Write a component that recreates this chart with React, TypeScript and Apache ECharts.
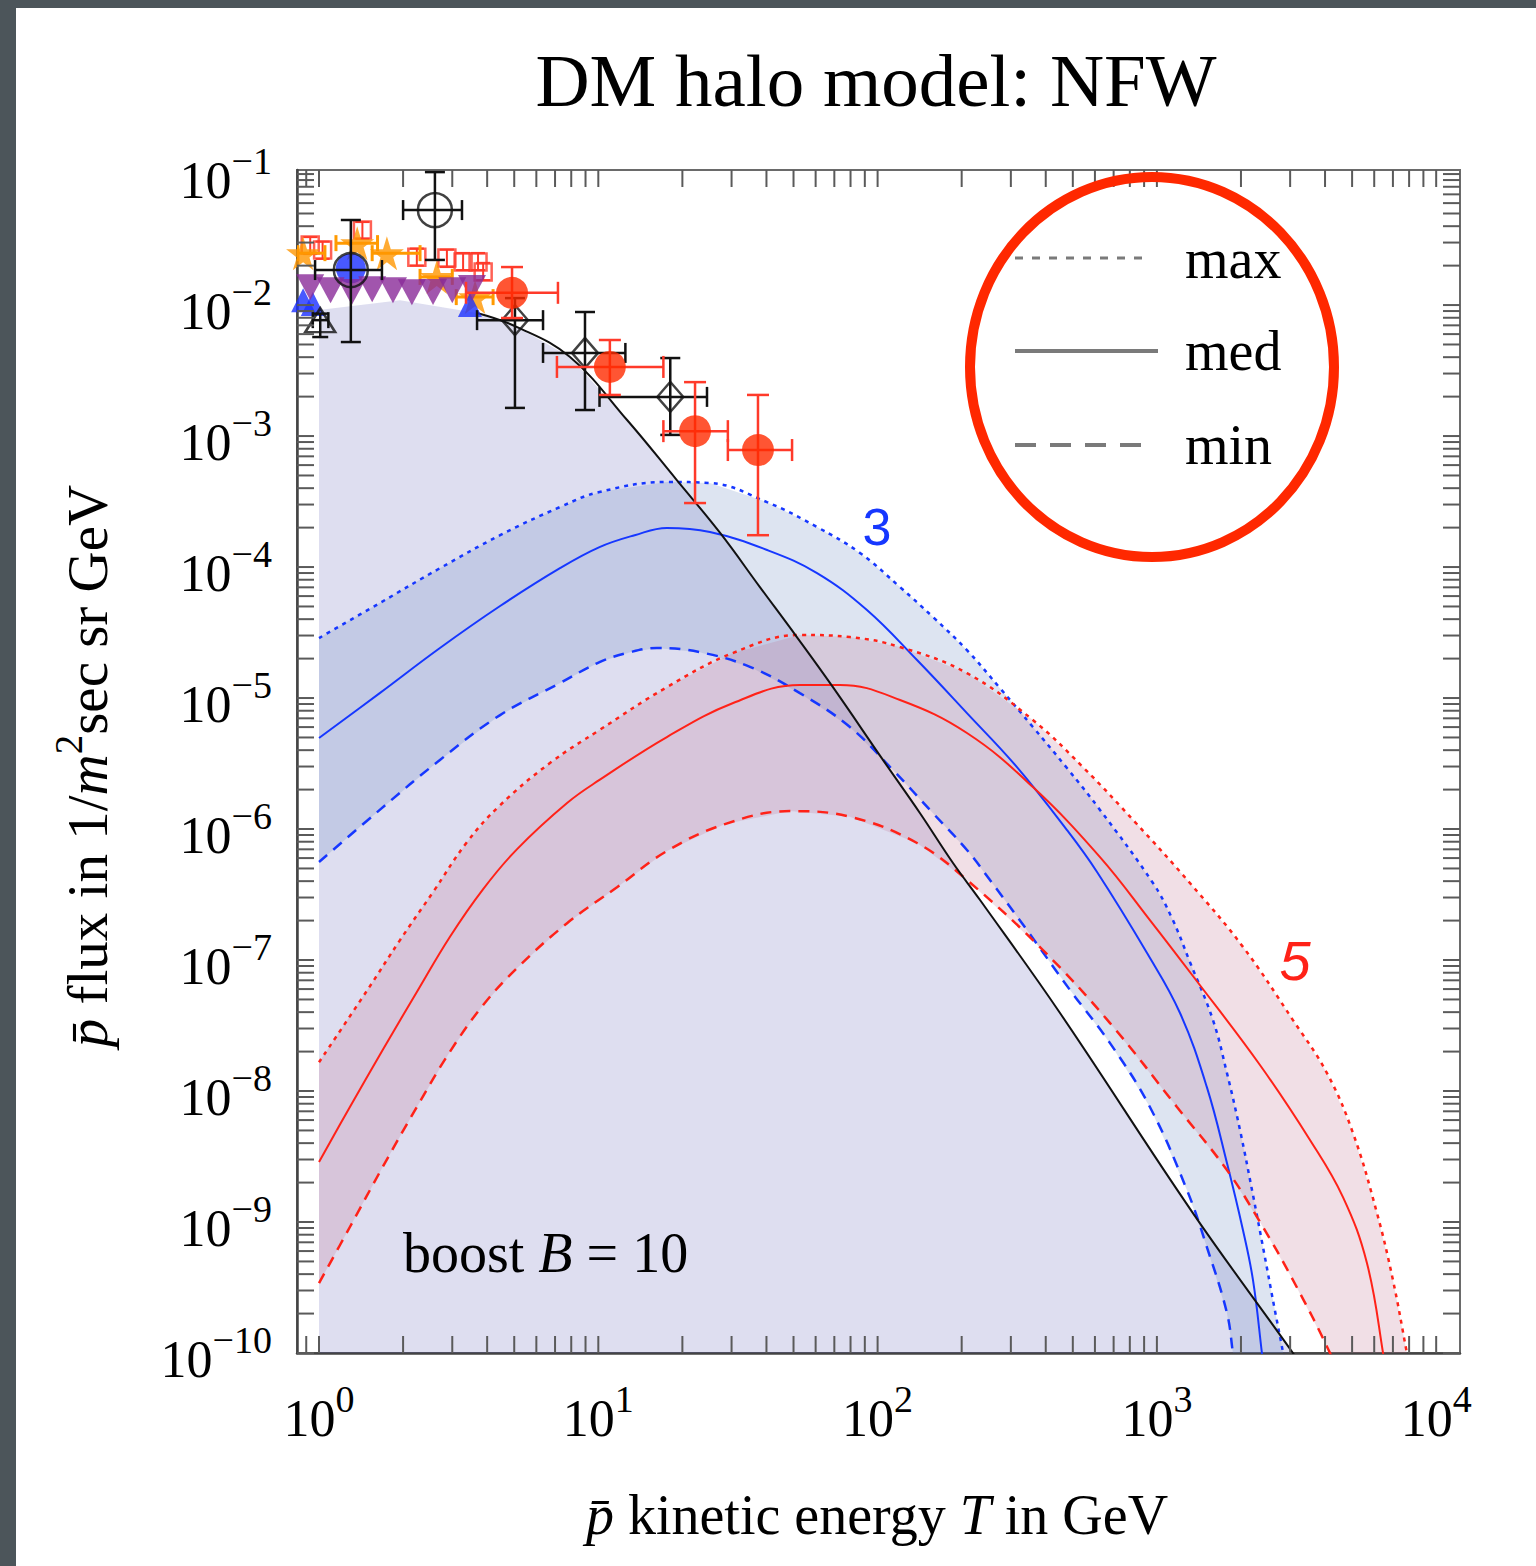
import React, { useEffect, useRef } from 'react';
import * as echarts from 'echarts';

// ---------- axis ranges ----------
const X_MIN = 0.834;
const X_MAX = 12170;
const Y_MIN = 1e-10;
const Y_MAX = 0.1074;
const FLOOR = 6e-11;

// ---------- tick positions (log axes, 1..9 x 10^n) ----------
const TICK_MULTS = [1, 2, 3, 4, 5, 6, 7, 8, 9];
const X_DECADES = [0, 1, 2, 3];
const Y_DECADES = [-10, -9, -8, -7, -6, -5, -4, -3, -2];
const X_EXTRA_TICKS = [0.9, 10000];
const Y_EXTRA_TICKS = [0.1];

// ---------- curves: [T in GeV, flux] ----------
const BACKGROUND: [number, number][] = [
  [1, 9.16e-3], [1.95, 1.09e-2], [3.68, 8.69e-3], [5.12, 6.79e-3], [7.92, 4.01e-3],
  [12.7, 1.32e-3], [19.1, 4.61e-4], [27.3, 1.82e-4], [37.9, 7.03e-5], [51.4, 2.92e-5],
  [69.2, 1.21e-5], [104.5, 3.37e-6], [141.9, 1.32e-6], [186.2, 5.5e-7], [232.7, 2.87e-7],
  [449.9, 3.94e-8], [1346, 1.17e-9], [3070, 1e-10], [3533, 6.4e-11],
];

const BLUE_MAX: [number, number][] = [
  [1, 2.87e-5], [1.65, 5.31e-5], [2.71, 9.8e-5], [4.45, 1.75e-4], [7.29, 2.87e-4],
  [10.1, 3.74e-4], [17.6, 4.46e-4], [25.1, 4.38e-4], [40.2, 3.13e-4], [60.7, 2.02e-4],
  [86.5, 1.28e-4], [120.3, 7.03e-5], [157.9, 4.15e-5], [208.9, 2.32e-5], [274.3, 1.19e-5],
  [359.8, 6.01e-6], [476.5, 2.92e-6], [625.6, 1.4e-6], [968, 3.87e-7], [1132, 2.09e-7],
  [1313, 9.66e-8], [1588, 3.48e-8], [1782, 1.37e-8], [1984, 5.04e-9], [2208, 1.61e-9],
  [2417, 5.9e-10], [2624, 2.32e-10], [2831, 1e-10], [2946, 6.2e-11],
];

const BLUE_MED: [number, number][] = [
  [1, 4.95e-6], [1.65, 1.09e-5], [2.71, 2.41e-5], [4.45, 5.04e-5], [7.29, 9.8e-5],
  [10.1, 1.42e-4], [13.5, 1.75e-4], [17.6, 1.99e-4], [25.1, 1.85e-4], [40.2, 1.35e-4],
  [60.7, 9.0e-5], [91.6, 4.7e-5], [138.4, 1.95e-5], [208.9, 7.67e-6], [315.5, 2.97e-6],
  [476.5, 9.82e-7], [610.6, 4.7e-7], [922, 1.13e-7], [1210, 3.94e-8], [1510, 1.07e-8],
  [1782, 2.82e-9], [2033, 8.69e-10], [2208, 3.61e-10], [2377, 1e-10], [2438, 6.2e-11],
];

const BLUE_MIN: [number, number][] = [
  [1, 5.6e-7], [1.65, 1.4e-6], [2.71, 3.37e-6], [4.45, 7.41e-6], [7.29, 1.3e-5],
  [10.1, 1.88e-5], [13.0, 2.24e-5], [16.2, 2.41e-5], [23.1, 2.24e-5], [34.9, 1.73e-5],
  [52.7, 1.09e-5], [79.6, 6.01e-6], [113.5, 2.82e-6], [157.9, 1.32e-6], [208.9, 6.92e-7],
  [252.6, 4.08e-7], [342.8, 1.69e-7], [488.6, 5.9e-8], [679.5, 2.32e-8], [944, 7.55e-9],
  [1282, 1.75e-9], [1510, 6.44e-10], [1782, 2.02e-10], [1872, 1e-10], [1936, 6.2e-11],
];

const RED_MAX: [number, number][] = [
  [1, 1.66e-8], [1.49, 5.9e-8], [1.95, 1.42e-7], [2.56, 3.3e-7], [3.39, 7.96e-7],
  [4.45, 1.52e-6], [6.71, 3.19e-6], [10.1, 5.7e-6], [17.6, 1.21e-5], [30.4, 2.21e-5],
  [52.7, 3.03e-5], [79.6, 2.92e-5], [120.3, 2.45e-5], [208.9, 1.55e-5], [359.8, 6.79e-6],
  [543.5, 2.97e-6], [835, 1.13e-6], [1313, 3.87e-7], [2033, 1.26e-7], [3070, 3.48e-8],
  [4064, 1.37e-8], [5036, 4.78e-9], [6138, 1.17e-9], [7000, 3.61e-10], [7855, 1e-10],
  [8190, 6.2e-11],
];

const RED_MED: [number, number][] = [
  [1, 2.87e-9], [1.29, 7.55e-9], [1.69, 2.06e-8], [2.24, 5.7e-8], [2.94, 1.5e-7],
  [3.87, 3.48e-7], [5.12, 7.03e-7], [7.73, 1.58e-6], [10.1, 2.37e-6], [17.6, 5.04e-6],
  [30.4, 9.16e-6], [52.7, 1.26e-5], [73.3, 1.26e-5], [120.3, 9.66e-6], [208.9, 5.41e-6],
  [359.8, 2.09e-6], [625.6, 6.11e-7], [944, 2.02e-7], [1346, 7.55e-8], [2339, 1.58e-8],
  [3533, 4.23e-9], [4637, 1.55e-9], [5650, 4.86e-10], [6452, 1e-10], [6607, 6.2e-11],
];

const RED_MIN: [number, number][] = [
  [1, 3.42e-10], [1.29, 9.16e-10], [1.69, 2.63e-9], [2.24, 7.55e-9], [2.94, 1.99e-8],
  [3.87, 4.53e-8], [5.12, 8.69e-8], [7.73, 1.91e-7], [11.7, 3.61e-7], [17.6, 6.79e-7],
  [28.4, 1.09e-6], [48.6, 1.37e-6], [79.6, 1.24e-6], [138.4, 7.82e-7], [208.9, 4.08e-7],
  [390.9, 1.19e-7], [679.5, 3.3e-8], [1180, 7.55e-9], [1782, 2.49e-9], [2339, 1e-9],
  [3070, 3.61e-10], [4167, 1e-10], [4529, 6.2e-11],
];

// ---------- measured data: [T, flux, Tlo, Thi, fluxLo, fluxHi] ----------
const RED_CIRCLES: number[][] = [
  [4.91, 1.24e-2, 3.36, 7.17, 7.96e-3, 1.95e-2],
  [11.0, 3.37e-3, 7.11, 17.1, 2.06e-3, 5.41e-3],
  [22.2, 1.09e-3, 17.1, 29.1, 3.08e-4, 2.58e-3],
  [37.3, 7.82e-4, 29.1, 49.4, 1.75e-4, 2.06e-3],
];
const BLACK_DIAMONDS: number[][] = [
  [5.03, 7.67e-3, 3.68, 6.34, 1.64e-3, 1.13e-2],
  [8.96, 4.31e-3, 6.34, 12.5, 1.58e-3, 8.85e-3],
  [18.1, 1.99e-3, 10.1, 24.5, 1.02e-3, 3.94e-3],
];
const BLACK_CIRCLES: number[][] = [
  [2.6, 5.31e-2, 2.0, 3.25, 2.21e-2, 0.1035],
  [1.3, 1.85e-2, 0.968, 1.68, 5.22e-3, 4.46e-2],
];
const BLACK_TRIANGLES: number[][] = [[1.01, 7.67e-3, 0.95, 1.08, 5.7e-3, 8.6e-3]];
const BLUE_CIRCLES: number[][] = [[1.3, 1.9e-2]];
const BLUE_TRIANGLES: number[][] = [[0.877, 1.09e-2], [0.95, 1.02e-2], [3.47, 1.0e-2]];
const PURPLE_TRIANGLES: number[][] = [
  [0.93, 1.37e-2], [1.1, 1.3e-2], [1.31, 1.26e-2], [1.55, 1.32e-2], [1.84, 1.3e-2],
  [2.15, 1.25e-2], [2.56, 1.26e-2], [3.0, 1.3e-2], [3.53, 1.35e-2],
];
const ORANGE_STARS: number[][] = [
  [0.877, 2.49e-2, 0.84, 1.05, 2.49e-2, 2.49e-2],
  [1.37, 2.97e-2, 1.15, 1.62, 2.97e-2, 2.97e-2],
  [1.75, 2.49e-2, 1.55, 2.3, 2.49e-2, 2.49e-2],
  [2.64, 1.64e-2, 2.3, 3.0, 1.64e-2, 1.64e-2],
  [3.62, 1.15e-2, 3.1, 4.2, 1.15e-2, 1.15e-2],
];
const RED_SQUARES: number[][] = [
  [0.93, 2.87e-2, 0.93, 0.93, 2.45e-2, 3.3e-2],
  [1.03, 2.63e-2, 1.03, 1.03, 2.25e-2, 3.05e-2],
  [1.43, 3.74e-2, 1.43, 1.43, 3.2e-2, 4.3e-2],
  [2.24, 2.32e-2, 2.24, 2.24, 2.0e-2, 2.7e-2],
  [2.87, 2.29e-2, 2.87, 2.87, 1.95e-2, 2.65e-2],
  [3.28, 2.13e-2, 3.28, 3.28, 1.85e-2, 2.5e-2],
  [3.71, 2.13e-2, 3.71, 3.71, 1.85e-2, 2.5e-2],
  [3.87, 1.79e-2, 3.87, 3.87, 1.55e-2, 2.1e-2],
];

// ---------- text ----------
const TITLE = 'DM halo model: NFW';
const X_NAME = '{pi|p\u0304} kinetic energy {ti|T} in GeV';
const Y_NAME = '{pi|p\u0304} flux in 1/{ti|m}{sup|2}sec sr GeV';
const BOOST = 'boost {ti|B} = 10';
const LEGEND_LABELS = ['max', 'med', 'min'];
const MASS_LABELS = ['3', '5'];

const SERIF = 'Liberation Serif';
const SANS = 'Liberation Sans';
const BLUE = '#1637ff';
const RED = '#ff2218';
const STAR_PATH =
  'path://M50,0 L61,35 L98,35 L68,57 L79,91 L50,70 L21,91 L32,57 L2,35 L39,35 Z';

function buildTicks(decades: number[], extra: number[]) {
  const out: number[] = [];
  decades.forEach((d) => TICK_MULTS.forEach((k) => out.push(k * Math.pow(10, d))));
  return out.concat(extra);
}

const fmtPow = (v: number) => {
  const e = Math.log10(v);
  const r = Math.round(e);
  if (Math.abs(e - r) > 1e-6) return '';
  return `{b|10}{s|${r < 0 ? '\u2212' + -r : r}}`;
};

const labelRich = {
  b: { fontFamily: SERIF, fontSize: 52, lineHeight: 64, verticalAlign: 'bottom', color: '#000' },
  s: { fontFamily: SERIF, fontSize: 38, lineHeight: 40, verticalAlign: 'top', color: '#000' },
};

const textRich = (size: number) => ({
  pi: { fontFamily: SERIF, fontStyle: 'italic', fontSize: size, lineHeight: 76, color: '#000' },
  ti: { fontFamily: SERIF, fontStyle: 'italic', fontSize: size, lineHeight: 76, color: '#000' },
  sup: { fontFamily: SERIF, fontSize: Math.round(size * 0.68), lineHeight: 40, verticalAlign: 'top', color: '#000' },
});

function bandSeries(upper: [number, number][], lower: [number, number][], fill: string, z: number) {
  return {
    type: 'custom',
    silent: true,
    clip: true,
    z,
    data: [[1, 1e-5]],
    encode: { x: 0, y: 1 },
    renderItem: (_p: any, api: any) => {
      const pts = upper
        .map((p) => api.coord(p))
        .concat(lower.slice().reverse().map((p) => api.coord(p)));
      return { type: 'polygon', shape: { points: pts }, style: { fill, stroke: 'none' } };
    },
  };
}

function curveSeries(data: [number, number][], color: string, type: any, width: number, z = 4) {
  return {
    type: 'line',
    data,
    showSymbol: false,
    symbol: 'none',
    smooth: 0.4,
    silent: true,
    clip: true,
    z,
    lineStyle: { color, width, type },
  };
}

function errSeries(data: number[][], color: string, z: number, cap = 9, width = 2.5) {
  return {
    type: 'custom',
    silent: true,
    clip: true,
    z,
    data,
    encode: { x: [0, 2, 3], y: [1, 4, 5] },
    renderItem: (_p: any, api: any) => {
      const x = api.value(0), y = api.value(1);
      const l = api.coord([api.value(2), y]);
      const r = api.coord([api.value(3), y]);
      const b = api.coord([x, api.value(4)]);
      const t = api.coord([x, api.value(5)]);
      const style = { stroke: color, lineWidth: width };
      const ch: any[] = [];
      if (Math.abs(r[0] - l[0]) > 1) {
        ch.push({ type: 'line', shape: { x1: l[0], y1: l[1], x2: r[0], y2: r[1] }, style });
        ch.push({ type: 'line', shape: { x1: l[0], y1: l[1] - cap, x2: l[0], y2: l[1] + cap }, style });
        ch.push({ type: 'line', shape: { x1: r[0], y1: r[1] - cap, x2: r[0], y2: r[1] + cap }, style });
      }
      if (Math.abs(b[1] - t[1]) > 1) {
        ch.push({ type: 'line', shape: { x1: b[0], y1: b[1], x2: t[0], y2: t[1] }, style });
        ch.push({ type: 'line', shape: { x1: b[0] - cap, y1: b[1], x2: b[0] + cap, y2: b[1] }, style });
        ch.push({ type: 'line', shape: { x1: t[0] - cap, y1: t[1], x2: t[0] + cap, y2: t[1] }, style });
      }
      return { type: 'group', children: ch };
    },
  };
}

function scatter(data: number[][], symbol: string, size: any, item: any, z: number) {
  return {
    type: 'scatter',
    data: data.map((d) => [d[0], d[1]]),
    symbol,
    symbolSize: size,
    itemStyle: item,
    silent: true,
    z,
  };
}

export default function App() {
  const ref = useRef<HTMLDivElement>(null);
  useEffect(() => {
    if (!ref.current) return;
    const chart = echarts.init(ref.current, null, { renderer: 'svg' });
    const xTicks = buildTicks(X_DECADES, X_EXTRA_TICKS);
    const yTicks = buildTicks(Y_DECADES, Y_EXTRA_TICKS);
    const TL = 17;
    const tickStyle = { stroke: '#5a5a5a', lineWidth: 2 };

    const option: any = {
      animation: false,
      backgroundColor: '#ffffff',
      grid: {
        left: 297, top: 170, width: 1163, height: 1183,
        show: true, borderColor: '#6a6a6a', borderWidth: 2, backgroundColor: 'transparent',
      },
      xAxis: {
        type: 'log', logBase: 10, min: X_MIN, max: X_MAX,
        axisLine: { show: true, lineStyle: { color: '#444', width: 2.5 } },
        axisTick: { show: false }, minorTick: { show: false },
        splitLine: { show: false }, minorSplitLine: { show: false },
        axisLabel: { formatter: fmtPow, margin: 27, rich: labelRich, showMinLabel: true, showMaxLabel: true },
      },
      yAxis: {
        type: 'log', logBase: 10, min: Y_MIN, max: Y_MAX,
        axisLine: { show: true, lineStyle: { color: '#444', width: 2.5 } },
        axisTick: { show: false }, minorTick: { show: false },
        splitLine: { show: false }, minorSplitLine: { show: false },
        axisLabel: { formatter: fmtPow, margin: 25, rich: labelRich },
      },
      series: [
        bandSeries(BACKGROUND, [[BACKGROUND[0][0], FLOOR]], 'rgba(90,90,180,0.2)', 1),
        bandSeries(BLUE_MAX, BLUE_MIN, 'rgba(100,130,190,0.22)', 1),
        bandSeries(RED_MAX, RED_MIN, 'rgba(190,110,140,0.22)', 1),
        curveSeries(BLUE_MAX, BLUE, [4, 5], 2.5),
        curveSeries(BLUE_MED, BLUE, 'solid', 2),
        curveSeries(BLUE_MIN, BLUE, [11, 8], 2.5),
        curveSeries(RED_MAX, RED, [4, 5], 2.5),
        curveSeries(RED_MED, RED, 'solid', 2),
        curveSeries(RED_MIN, RED, [11, 8], 2.5),
        curveSeries(BACKGROUND.slice(2), '#111', 'solid', 2, 5),
        // measured data
        errSeries(RED_SQUARES, '#ff3a2a', 6, 7, 2),
        scatter(RED_SQUARES, 'rect', 17, { color: 'rgba(0,0,0,0)', borderColor: '#ff3a2a', borderWidth: 2.5 }, 6),
        errSeries(ORANGE_STARS, '#ff9a00', 7, 8, 3),
        scatter(ORANGE_STARS, STAR_PATH, 34, { color: '#ff9600' }, 7),
        scatter(BLUE_TRIANGLES, 'triangle', 24, { color: '#1a30ff' }, 7),
        scatter(BLUE_CIRCLES, 'circle', 30, { color: '#1a30ff' }, 7),
        scatter(PURPLE_TRIANGLES, 'path://M0,0 L100,0 L50,90 Z', [28, 26], { color: '#8a2a98' }, 8),
        errSeries(BLACK_CIRCLES, '#111', 9, 10, 2.5),
        scatter(BLACK_CIRCLES, 'circle', 34, { color: 'rgba(0,0,0,0)', borderColor: '#111', borderWidth: 2.5 }, 9),
        errSeries(BLACK_TRIANGLES, '#111', 9, 8, 2.5),
        scatter(BLACK_TRIANGLES, 'triangle', [30, 24], { color: 'rgba(0,0,0,0)', borderColor: '#111', borderWidth: 2.5 }, 9),
        errSeries(BLACK_DIAMONDS, '#111', 9, 10, 2.5),
        scatter(BLACK_DIAMONDS, 'diamond', [26, 30], { color: 'rgba(0,0,0,0)', borderColor: '#111', borderWidth: 2.5 }, 9),
        errSeries(RED_CIRCLES, '#ff3a2a', 10, 11, 2.5),
        scatter(RED_CIRCLES, 'circle', 32, { color: '#ff2a00' }, 10),
        // ticks on all four sides
        {
          type: 'custom', silent: true, z: 12,
          data: xTicks.map((v) => [v, Y_MIN]), encode: { x: 0, y: 1 },
          renderItem: (_p: any, api: any) => {
            const v = api.value(0);
            const b = api.coord([v, Y_MIN]);
            const t = api.coord([v, Y_MAX]);
            return {
              type: 'group',
              children: [
                { type: 'line', shape: { x1: b[0], y1: b[1], x2: b[0], y2: b[1] - TL }, style: tickStyle },
                { type: 'line', shape: { x1: t[0], y1: t[1], x2: t[0], y2: t[1] + TL }, style: tickStyle },
              ],
            };
          },
        },
        {
          type: 'custom', silent: true, z: 12,
          data: yTicks.map((v) => [X_MIN, v]), encode: { x: 0, y: 1 },
          renderItem: (_p: any, api: any) => {
            const v = api.value(1);
            const l = api.coord([X_MIN, v]);
            const r = api.coord([X_MAX, v]);
            return {
              type: 'group',
              children: [
                { type: 'line', shape: { x1: l[0], y1: l[1], x2: l[0] + TL, y2: l[1] }, style: tickStyle },
                { type: 'line', shape: { x1: r[0], y1: r[1], x2: r[0] - TL, y2: r[1] }, style: tickStyle },
              ],
            };
          },
        },
      ],
      graphic: [
        { type: 'rect', z: 100, shape: { x: 0, y: 0, width: 16, height: 1566 }, style: { fill: '#4c555a' } },
        { type: 'rect', z: 100, shape: { x: 0, y: 0, width: 1536, height: 8 }, style: { fill: '#4c555a' } },
        {
          type: 'text', z: 100, x: 876, y: 80,
          style: { text: TITLE, fontFamily: SERIF, fontSize: 75, fill: '#000', align: 'center', verticalAlign: 'middle' },
        },
        {
          type: 'text', z: 100, x: 877, y: 1515,
          style: { text: X_NAME, fontFamily: SERIF, fontSize: 56, lineHeight: 76, fill: '#000', align: 'center', verticalAlign: 'middle', rich: textRich(56) },
        },
        {
          type: 'text', z: 100, x: 87, y: 766, rotation: Math.PI / 2,
          style: { text: Y_NAME, fontFamily: SERIF, fontSize: 57, lineHeight: 76, fill: '#000', align: 'center', verticalAlign: 'middle', rich: textRich(57) },
        },
        {
          type: 'text', z: 100, x: 403, y: 1253,
          style: { text: BOOST, fontFamily: SERIF, fontSize: 56, lineHeight: 76, fill: '#000', align: 'left', verticalAlign: 'middle', rich: textRich(56) },
        },
        // legend
        { type: 'line', z: 100, shape: { x1: 1015, y1: 258, x2: 1150, y2: 258 }, style: { stroke: '#7a7a7a', lineWidth: 3, lineDash: [8, 9] } },
        { type: 'line', z: 100, shape: { x1: 1015, y1: 351, x2: 1158, y2: 351 }, style: { stroke: '#7a7a7a', lineWidth: 4 } },
        { type: 'line', z: 100, shape: { x1: 1015, y1: 445, x2: 1145, y2: 445 }, style: { stroke: '#7a7a7a', lineWidth: 4, lineDash: [21, 14] } },
        ...LEGEND_LABELS.map((t, i) => ({
          type: 'text', z: 100, x: 1185, y: [259, 351, 445][i],
          style: { text: t, fontFamily: SERIF, fontSize: 56, fill: '#000', align: 'left', verticalAlign: 'middle' },
        })),
        {
          type: 'ellipse', z: 101,
          shape: { cx: 1152, cy: 367, rx: 182, ry: 190 },
          style: { fill: 'none', stroke: '#ff2800', lineWidth: 10 },
        },
        {
          type: 'text', z: 100, x: 877, y: 527,
          style: { text: MASS_LABELS[0], fontFamily: SANS, fontSize: 52, fill: BLUE, align: 'center', verticalAlign: 'middle' },
        },
        {
          type: 'text', z: 100, x: 1295, y: 960,
          style: { text: MASS_LABELS[1], fontFamily: SANS, fontStyle: 'italic', fontSize: 56, fill: RED, align: 'center', verticalAlign: 'middle' },
        },
      ],
    };
    chart.setOption(option);
    return () => chart.dispose();
  }, []);
  return (
    <div
      ref={ref}
      style={{ position: 'fixed', left: 0, top: 0, width: 1536, height: 1566 }}
    />
  );
}
